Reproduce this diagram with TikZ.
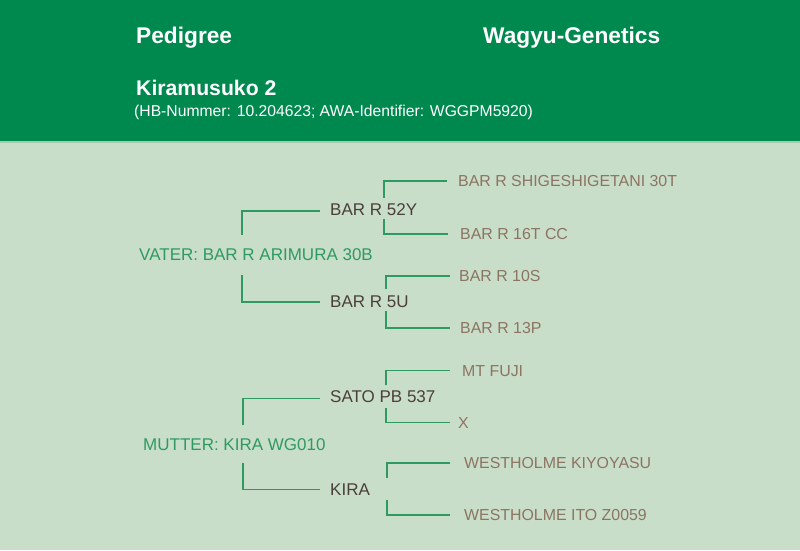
\documentclass[tikz,border=0pt]{standalone}
\usepackage{fontspec}
\setmainfont{Liberation Sans}
\definecolor{hdr}{HTML}{00894F}
\definecolor{bgc}{HTML}{C9DEC9}
\definecolor{sepc}{HTML}{A6C8AC}
\definecolor{lnc}{HTML}{2E9A62}
\definecolor{parc}{HTML}{4B3F3A}
\definecolor{gpc}{HTML}{8C7463}
\definecolor{rootc}{HTML}{2E9A62}
\tikzset{
  hdrtitle/.style={anchor=base west, inner sep=0pt, text=white, font=\fontsize{22.7}{26}\selectfont\bfseries},
  hdrname/.style={anchor=base west, inner sep=0pt, text=white, font=\fontsize{21.2}{24}\selectfont\bfseries},
  hdrsub/.style={anchor=base west, inner sep=0pt, text=white, font=\fontsize{15.7}{18}\selectfont},
  rootnode/.style={anchor=west, inner sep=0pt, text=rootc, font=\fontsize{17}{20}\selectfont, text height=12.2pt, text depth=0pt},
  parnode/.style={anchor=west, inner sep=0pt, text=parc, font=\fontsize{17}{20}\selectfont, text height=12.2pt, text depth=0pt},
  gpnode/.style={anchor=west, inner sep=0pt, text=gpc, font=\fontsize{15.9}{18}\selectfont, text height=11.4pt, text depth=0pt},
  link/.style={draw=lnc, line width=1.4pt}
}
\begin{document}
\begin{tikzpicture}[x=1pt,y=-1pt]
\useasboundingbox (0,0) rectangle (800,550);
\fill[bgc] (0,0) rectangle (800,550);
\fill[hdr] (0,0) rectangle (800,141);
\draw[sepc, line width=1.2pt] (0,142) -- (800,142);

% header
\node[hdrtitle] (ttl) at (136,43) {Pedigree};
\node[hdrtitle] (brand) at (483,43) {Wagyu-Genetics};
\node[hdrname] (animal) at (136,95) {Kiramusuko 2};
\node[hdrsub] (ids) at (134,116) {(HB-Nummer: 10.204623; AWA-Identifier: WGGPM5920)};

% sire side
\node[rootnode] (vater) at (139,254.5) {VATER: BAR R ARIMURA 30B};
\node[parnode] (p1) at (330,209) {BAR R 52Y};
\node[parnode] (p2) at (330,301) {BAR R 5U};
\node[gpnode] (g1) at (458,181) {BAR R SHIGESHIGETANI 30T};
\node[gpnode] (g2) at (460,234) {BAR R 16T CC};
\node[gpnode] (g3) at (459,276) {BAR R 10S};
\node[gpnode] (g4) at (460,328) {BAR R 13P};

% dam side
\node[rootnode] (mutter) at (143,444) {MUTTER: KIRA WG010};
\node[parnode] (p3) at (330,396.5) {SATO PB 537};
\node[parnode] (p4) at (330,489.5) {KIRA};
\node[gpnode] (g5) at (462,370.5) {MT FUJI};
\node[gpnode] (g6) at (458,422.5) {X};
\node[gpnode] (g7) at (464,463) {WESTHOLME KIYOYASU};
\node[gpnode] (g8) at (464,515) {WESTHOLME ITO Z0059};

% root brackets
\draw[link] ([shift={(103pt,13pt)}]vater.north west) |- ([shift={(-10pt,-2pt)}]p1.west);
\draw[link] ([shift={(103pt,-14pt)}]vater.south west) |- ([shift={(-10pt,-1pt)}]p2.west);
\draw[link] ([shift={(100pt,13pt)}]mutter.north west) |- ([shift={(-10pt,-2pt)}]p3.west);
\draw[link] ([shift={(100pt,-13pt)}]mutter.south west) |- ([shift={(-10pt,0pt)}]p4.west);

% parent brackets
\draw[link] ([shift={(54pt,5pt)}]p1.north west) |- ([xshift=-11pt]g1.west);
\draw[link] ([shift={(54pt,-4pt)}]p1.south west) |- ([xshift=-12pt]g2.west);
\draw[link] ([shift={(56pt,6pt)}]p2.north west) |- ([xshift=-9pt]g3.west);
\draw[link] ([shift={(56pt,-4pt)}]p2.south west) |- ([xshift=-10pt]g4.west);
\draw[link] ([shift={(56pt,5pt)}]p3.north west) |- ([xshift=-12pt]g5.west);
\draw[link] ([shift={(56pt,-5pt)}]p3.south west) |- ([xshift=-8pt]g6.west);
\draw[link] ([shift={(57pt,5pt)}]p4.north west) |- ([xshift=-14pt]g7.west);
\draw[link] ([shift={(57pt,-4pt)}]p4.south west) |- ([xshift=-14pt]g8.west);
\end{tikzpicture}
\end{document}
